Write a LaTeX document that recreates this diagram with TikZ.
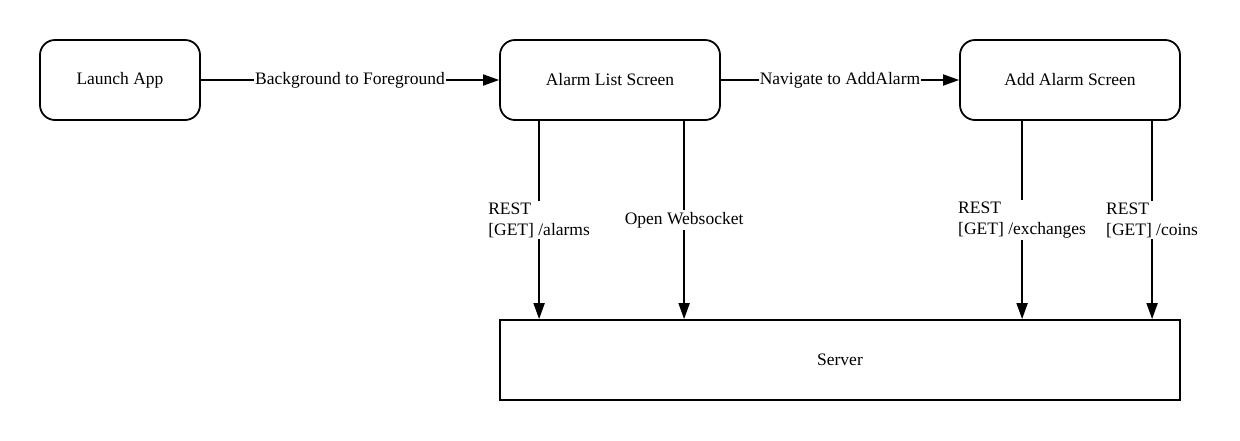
\documentclass[tikz,border=0pt]{standalone}
\usepackage{fontspec}
\setmainfont{Liberation Serif}
\usetikzlibrary{arrows.meta}
\tikzset{
  screen/.style={draw, line width=1.8pt, rounded corners=15pt, minimum width=160pt, minimum height=80pt, inner sep=0pt, font=\fontsize{17.5}{21}\selectfont},
  serverbox/.style={draw, line width=1.8pt, minimum width=680pt, minimum height=80pt, inner sep=0pt, font=\fontsize{17.5}{21}\selectfont},
  arr/.style={line width=1.8pt, -{Triangle[length=16pt,width=11pt]}},
  lbl/.style={fill=white, inner sep=1pt, font=\fontsize{17.5}{21}\selectfont},
  vlbl/.style={fill=white, inner sep=2pt, align=left, font=\fontsize{17.5}{21}\selectfont}
}
\begin{document}
\begin{tikzpicture}[x=1pt,y=-1pt]
\useasboundingbox (0,0) rectangle (1240,440);
\node[screen] (launch) at (120,80) {Launch App};
\node[screen, minimum width=220pt] (alarms) at (610,80) {Alarm List Screen};
\node[screen, minimum width=220pt] (add) at (1070,80) {Add Alarm Screen};
\node[serverbox] (server) at (840,360) {Server};

\draw[arr] (launch) -- node[lbl] {Background to Foreground} (alarms);
\draw[arr] (alarms) -- node[lbl] {Navigate to AddAlarm} (add);

\draw[arr] ([xshift=40pt]alarms.south west) coordinate (p1) -- node[vlbl] {REST\\{[GET]} /alarms} (p1 |- server.north);
\draw[arr] ([xshift=185pt]alarms.south west) coordinate (p2) -- node[vlbl] {Open Websocket} (p2 |- server.north);
\draw[arr] ([xshift=63pt]add.south west) coordinate (p3) -- node[vlbl] {REST\\{[GET]} /exchanges} (p3 |- server.north);
\draw[arr] ([xshift=193pt]add.south west) coordinate (p4) -- node[vlbl] {REST\\{[GET]} /coins} (p4 |- server.north);
\end{tikzpicture}
\end{document}
